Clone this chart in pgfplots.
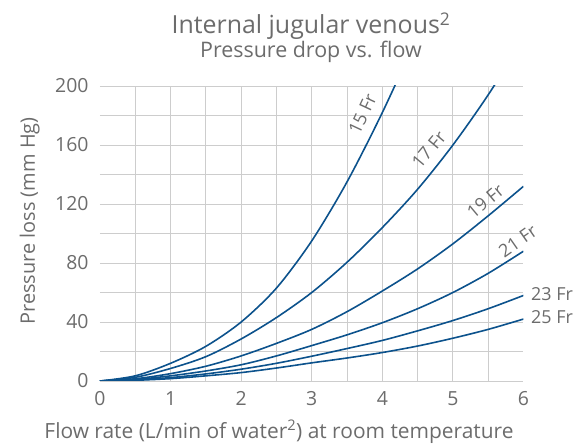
\documentclass[border=0pt]{standalone}
\usepackage{fontspec}
\setmainfont{Open Sans}
\usepackage{pgfplots}
\pgfplotsset{compat=1.18}
\definecolor{txt}{RGB}{108,108,108}
\definecolor{gridc}{RGB}{205,205,205}
\definecolor{curve}{RGB}{12,82,140}
\pgfplotsset{fr/.style={curve, line width=1.6bp, smooth, mark=none}}

\begin{document}
\begin{tikzpicture}
\useasboundingbox (-100bp,-67bp) rectangle (483bp,381bp);
\begin{axis}[
    at={(0,0)}, anchor=south west,
    scale only axis,
    width=423.5bp, height=295bp,
    xmin=0, xmax=6, ymin=0, ymax=200,
    xtick={0,...,6},
    ytick={0,40,...,200},
    minor y tick num=1,
    ymajorgrids, yminorgrids,
    extra x ticks={0.5,1,...,5.5},
    extra x tick labels={},
    extra x tick style={grid=major},
    major grid style={gridc, line width=0.9bp},
    minor grid style={gridc, line width=0.9bp},
    axis line style={draw=none},
    tick style={draw=none},
    ticklabel style={font=\fontsize{19.5}{22}\selectfont, text=txt},
    yticklabel style={xshift=-8bp},
    xticklabel style={yshift=-7bp},
    /pgf/number format/assume math mode=true,
    clip mode=individual,
]
% 15 Fr
\addplot[fr] coordinates {(0,0) (0.5,3.5) (1,12) (1.5,23.5) (2,40) (2.5,63) (3,95) (3.5,135) (4,182) (4.5,234)};
% 17 Fr
\addplot[fr] coordinates {(0,0) (0.5,2.5) (1,8.5) (1.5,16.5) (2,28.5) (2.5,43) (3,60) (3.5,80.5) (4,104) (4.5,130) (5,160) (5.5,194) (6,232)};
% 19 Fr
\addplot[fr] coordinates {(0,0) (0.5,1.5) (1,5) (1.5,10) (2,17) (2.5,25.5) (3,35) (3.5,47) (4,61) (4.5,76) (5,93) (5.5,112) (6,132)};
% 21 Fr
\addplot[fr] coordinates {(0,0) (0.5,1) (1,3.5) (1.5,6.8) (2,11) (2.5,17) (3,24) (3.5,31.3) (4,39.5) (4.5,49) (5,60) (5.5,73) (6,88)};
% 23 Fr
\addplot[fr] coordinates {(0,0) (0.5,0.7) (1,2.3) (1.5,4.8) (2,8) (2.5,12) (3,16.8) (3.5,22) (4,27.5) (4.5,34) (5,41) (5.5,49) (6,58)};
% 25 Fr
\addplot[fr] coordinates {(0,0) (0.5,0.5) (1,1.6) (1.5,3.5) (2,5.7) (2.5,8.8) (3,12.3) (3.5,15.6) (4,19.3) (4.5,23.7) (5,29) (5.5,35) (6,42)};

\begin{scope}[every node/.style={text=txt, font=\fontsize{18}{22}\selectfont, inner sep=0pt}]
\node[rotate=65] at (axis cs:3.72,181) {15 Fr};
\node[rotate=50] at (axis cs:4.66,157) {17 Fr};
\node[rotate=40] at (axis cs:5.46,122) {19 Fr};
\node[rotate=35] at (axis cs:5.92,95) {21 Fr};
\end{scope}
\end{axis}
\begin{scope}[every node/.style={text=txt, inner sep=0pt}]
\node[anchor=west, font=\fontsize{18}{22}\selectfont] at (431bp,87bp) {23 Fr};
\node[anchor=west, font=\fontsize{18}{22}\selectfont] at (431bp,64bp) {25 Fr};
\node[anchor=base, font=\fontsize{25}{28}\selectfont] at (211bp,347bp) {Internal jugular venous\textsuperscript{2}};
\node[anchor=base, font=\fontsize{21.5}{24}\selectfont] at (211bp,323bp) {Pressure drop vs. flow};
\node[anchor=base, font=\fontsize{21}{24}\selectfont] at (179bp,-57bp) {Flow rate (L/min of water\textsuperscript{2}) at room temperature};
\node[anchor=base, rotate=90, font=\fontsize{20}{24}\selectfont] at (-65bp,160bp) {Pressure loss (mm Hg)};
\end{scope}
\end{tikzpicture}
\end{document}
